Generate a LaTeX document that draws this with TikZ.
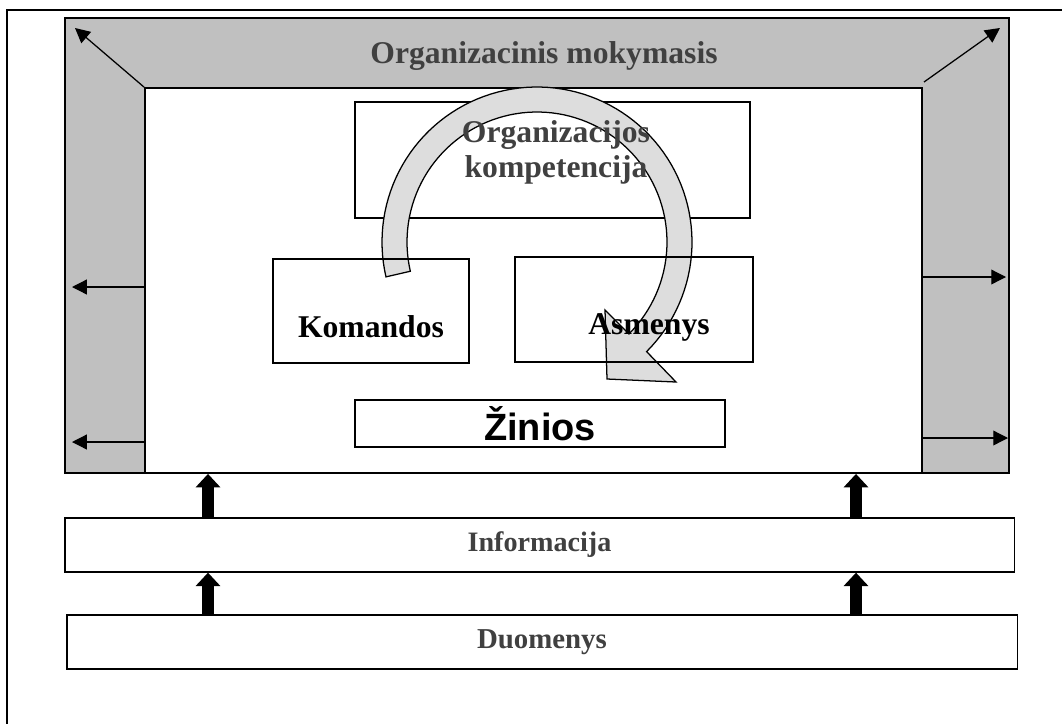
\documentclass[tikz,border=0pt]{standalone}
\usepackage{fontspec}
\setmainfont{Liberation Serif}
\newfontfamily\arialfont{Liberation Sans}
\usetikzlibrary{arrows.meta,positioning}
\definecolor{FrameGray}{RGB}{192,192,192}
\definecolor{LoopGray}{RGB}{221,221,221}
\definecolor{TextGray}{RGB}{64,64,64}

\tikzset{
  box/.style={draw, line width=0.9pt, inner sep=0pt},
  lbl/.style={font=\fontsize{22.5}{27}\selectfont\bfseries, inner sep=0pt, align=center},
  lblgray/.style={lbl, text=TextGray},
  thinarrow/.style={line width=0.9pt, -{Triangle[length=10.5pt,width=10.5pt]}},
  blockarrow/.style={line width=8.5pt, -{Triangle[length=9.5pt,width=17pt]}},
  loop/.style={draw, line width=0.9pt, fill=LoopGray}
}

\begin{document}
\begin{tikzpicture}[x=0.025cm, y=-0.025cm]
	\useasboundingbox (0,0) rectangle (1062,724);
	
	% outer frame (top and left only)
	\draw[line width=0.8pt] (1062,10) -- (7,10) -- (7,724);
	
	% organizacinis mokymasis
	\node[box, line width=1.2pt, fill=FrameGray, minimum width=23.6cm, minimum height=11.375cm] (frame) at (537,245.5) {};
	\node[box, line width=1.2pt, fill=white, minimum width=19.425cm, minimum height=9.625cm] (inner) at (533.5,280.5) {};
	\node[lblgray, anchor=base] (title) at (544,63) {Organizacinis mokymasis};
	
	\draw[thinarrow] (inner.north west) -- (75,28);
	\draw[thinarrow] (924,82) -- (1000,28);
	\foreach \yy in {287,442}
		\draw[thinarrow] (inner.west |- 0,\yy) -- (72,\yy);
	\draw[thinarrow] (inner.east |- 0,277) -- (1006,277);
	\draw[thinarrow] (inner.east |- 0,438) -- (1008,438);
	
	% vidiniai blokai
	\node[box, minimum width=9.875cm, minimum height=2.9cm] (komp) at (552.5,160) {};
	
	% ciklo rodykle
	\draw[loop] plot[domain=167:405, samples=90] ({537+155*cos(\x)}, {242+155*sin(\x)})
		-- (676,382) -- (607,379) -- (605,310)
		-- plot[domain=405:167, samples=90] ({537+130*cos(\x)}, {242+130*sin(\x)}) -- cycle;
	
	\node[lblgray, anchor=base, yshift=0.44cm] (kompt) at (556,160) {Organizacijos};
	\node[lblgray, anchor=base, yshift=-0.44cm] (kompt2) at (556,160) {kompetencija};
	
	\node[box, minimum width=4.9cm, minimum height=2.6cm] (kom) at (371,311) {};
	\node[lbl] (komt) at (371,327) {Komandos};
	\node[box, minimum width=5.95cm, minimum height=2.625cm] (asm) at (634,309.5) {};
	\node[lbl] (asmt) at (649,327) {Asmenys};
	
	\node[box, minimum width=9.25cm, minimum height=1.175cm] (zin) at (540,423.5) {};
	\node[font=\arialfont\fontsize{27}{31}\selectfont\bfseries, inner sep=0pt] (zint) at (zin) {Žinios};
	
	% informacija ir duomenys
	\node[box, fill=white, minimum width=23.725cm, minimum height=1.35cm] (info) at (539.5,545) {};
	\node[lblgray, font=\fontsize{20}{24}\selectfont\bfseries] (infot) at (info) {Informacija};
	\node[box, fill=white, minimum width=23.75cm, minimum height=1.35cm] (duom) at (542,642) {};
	\node[lblgray, font=\fontsize{20.5}{24}\selectfont\bfseries] (duomt) at (duom) {Duomenys};
	
	\coordinate (xl) at (208,0);
	\coordinate (xr) at (856,0);
	\draw[blockarrow] (duom.north -| xl) -- (info.south -| xl);
	\draw[blockarrow] (duom.north -| xr) -- (info.south -| xr);
	\draw[blockarrow] (info.north -| xl) -- (frame.south -| xl);
	\draw[blockarrow] (info.north -| xr) -- (frame.south -| xr);
\end{tikzpicture}
\end{document}
